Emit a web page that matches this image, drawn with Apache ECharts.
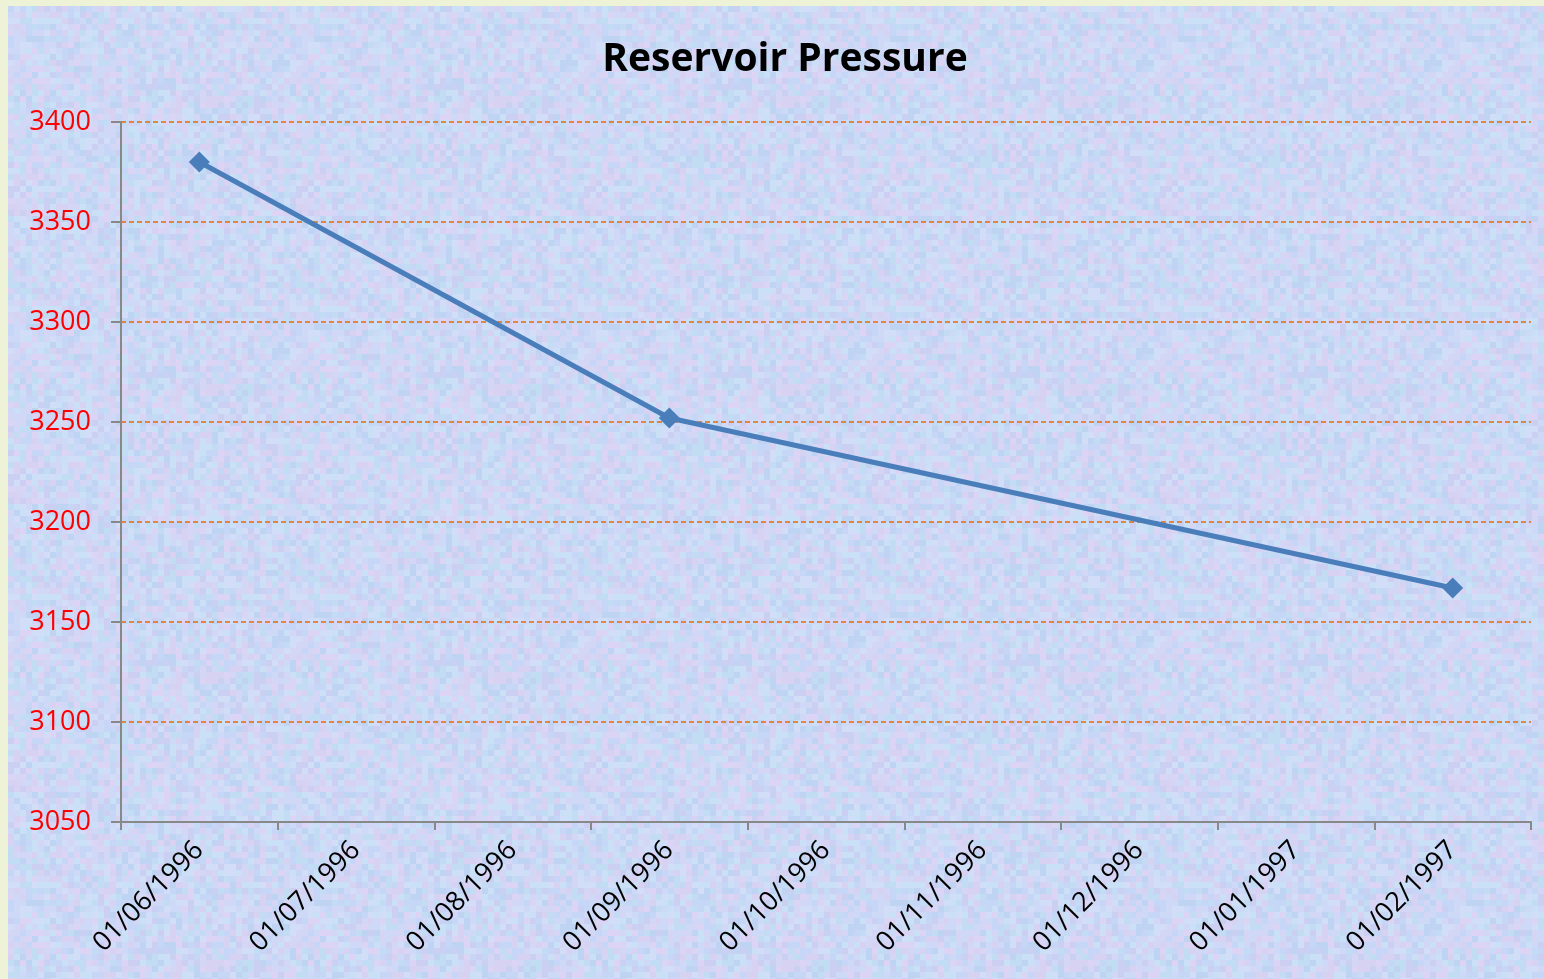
<!DOCTYPE html>
<html>
<head>
<meta charset="utf-8">
<script src="https://cdn.jsdelivr.net/npm/echarts@6/dist/echarts.min.js"></script>
<style>
html,body{margin:0;padding:0;width:1544px;height:979px;background:#EEF2D6;overflow:hidden;}
#chart{position:absolute;left:8px;top:6px;width:1536px;height:973px;background-color:#C9D7F4;}
</style>
</head>
<body>
<div id="chart"></div>
<script>
const categories = ['01/06/1996','01/07/1996','01/08/1996','01/09/1996','01/10/1996','01/11/1996','01/12/1996','01/01/1997','01/02/1997'];
const pressure = [3380, null, null, 3252, null, null, null, null, 3167];
const yMin = 3050, yMax = 3400, yStep = 50;
const titleText = 'Reservoir Pressure';

// decorative background texture (deterministic)
(function(){
  const c = document.createElement('canvas');
  const cell = 6, n = 48;
  c.width = c.height = cell*n;
  const g = c.getContext('2d');
  const pal = ['#C6D6F6','#CDD9F7','#D4D6F6','#C2DCF4','#D8D2F2','#C9E0F6','#CBD0F2','#DCD4F5','#BFD4F2','#D2DDF8'];
  for(let i=0;i<n;i++) for(let j=0;j<n;j++){
    const h = Math.abs(Math.sin(i*12.9898 + j*78.233) * 43758.5453) % 1;
    g.fillStyle = pal[Math.floor(h*pal.length)];
    g.fillRect(i*cell,j*cell,cell,cell);
  }
  document.getElementById('chart').style.backgroundImage = 'url(' + c.toDataURL() + ')';
})();

const chart = echarts.init(document.getElementById('chart'));
chart.setOption({
  backgroundColor: 'transparent',
  animation: false,
  title: {
    text: titleText,
    left: 772, top: 29, textAlign: 'center',
    textStyle: {fontFamily: 'Open Sans', fontWeight: 'bold', fontSize: 39, color: '#000'}
  },
  grid: {left: 113, top: 116, right: 13, bottom: 157, containLabel: false},
  xAxis: {
    type: 'category',
    data: categories,
    boundaryGap: true,
    axisLine: {lineStyle: {color: '#888888', width: 2}},
    axisTick: {show: true, length: 8, lineStyle: {color: '#888888', width: 2}},
    axisLabel: {rotate: 45, interval: 0, margin: 24, color: '#000', fontFamily: 'Open Sans', fontSize: 27}
  },
  yAxis: {
    type: 'value', min: yMin, max: yMax, interval: yStep,
    axisLine: {show: true, lineStyle: {color: '#888888', width: 2}},
    axisTick: {show: true, length: 10, lineStyle: {color: '#888888', width: 2}},
    axisLabel: {color: '#FF0000', fontFamily: 'Open Sans', fontSize: 27, margin: 30, formatter: v => String(v)},
    splitLine: {show: true, lineStyle: {color: '#E46C0A', type: [5, 3], width: 1.5}}
  },
  series: [{
    type: 'line',
    data: pressure,
    connectNulls: true,
    symbol: 'diamond',
    symbolSize: 21,
    lineStyle: {color: '#4A7EBB', width: 5},
    itemStyle: {color: '#4A7EBB'}
  }]
});
</script>
</body>
</html>
